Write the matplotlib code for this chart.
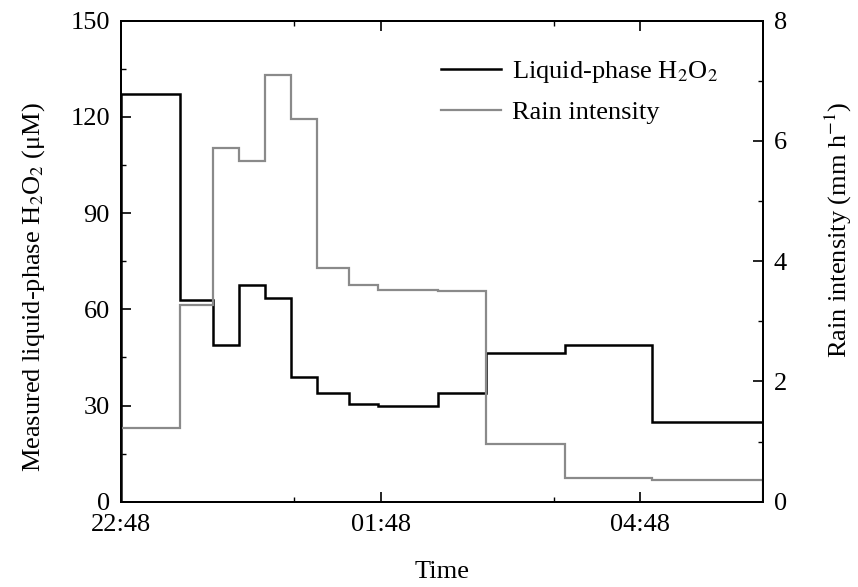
import matplotlib
matplotlib.use("Agg")
import matplotlib.pyplot as plt
import matplotlib.dates as mdates
import pandas as pd

plt.rcParams['font.family'] = ['Liberation Serif', 'DejaVu Serif']
plt.rcParams['mathtext.fontset'] = 'stix'

# step edges (clock time), night crossing midnight
edges = ["22:48", "23:29", "23:52", "00:10", "00:28", "00:46", "01:04",
         "01:26", "01:46", "02:28", "03:01", "03:56", "04:56", "06:13"]
h2o2 = [127, 63, 49, 67.5, 63.5, 39, 34, 30.5, 30, 34, 46.5, 49, 25]
rain = [1.23, 3.27, 5.88, 5.67, 7.09, 6.37, 3.88, 3.6, 3.52, 3.5, 0.96, 0.4, 0.36]
major_ticks = ["22:48", "01:48", "04:48"]
minor_ticks = ["00:48", "03:48"]


def to_time(labels):
    t = pd.to_datetime(["2000-01-01 " + s for s in labels])
    # after midnight -> next day
    return [x + pd.Timedelta(days=1) if x.hour < 12 else x for x in t]


t_edges = to_time(edges)

fig = plt.figure(figsize=(8.58, 5.87), dpi=100)
ax = fig.add_axes([0.141, 0.1453, 0.748, 0.8194])
ax2 = ax.twinx()

ax.stairs(h2o2, t_edges, color='black', lw=1.8, label='Liquid-phase H$_2$O$_2$')
ax2.stairs(rain, t_edges, color='#8a8a8a', lw=1.6, label='Rain intensity')

ax.set_xlim(t_edges[0], t_edges[-1])
ax.set_ylim(0, 150)
ax2.set_ylim(0, 8)
ax.set_yticks(range(0, 151, 30))
ax.set_yticks(range(15, 151, 30), minor=True)
ax2.set_yticks(range(0, 9, 2))
ax2.set_yticks(range(1, 9, 2), minor=True)
ax.set_xticks(to_time(major_ticks))
ax.set_xticks(to_time(minor_ticks), minor=True)
ax.xaxis.set_major_formatter(mdates.DateFormatter('%H:%M'))

fs = 19
for a in (ax, ax2):
    a.tick_params(which='major', direction='in', length=7, width=1.2, labelsize=fs, pad=8)
    a.tick_params(which='minor', direction='in', length=3.5, width=1.0)
    for s in a.spines.values():
        s.set_linewidth(1.4)
ax.tick_params(which='both', top=True)
ax.tick_params(axis='x', which='major', pad=9)

ax.set_xlabel('Time', fontsize=fs, labelpad=18)
ax.set_ylabel('Measured liquid-phase H$_2$O$_2$ (μM)', fontsize=fs)
ax2.set_ylabel('Rain intensity (mm h$^{-1}$)', fontsize=fs)
ax.yaxis.set_label_coords(-0.115, 0.446)
ax2.yaxis.set_label_coords(1.094, 0.565)

h1, l1 = ax.get_legend_handles_labels()
h2, l2 = ax2.get_legend_handles_labels()
ax2.legend(h1 + h2, l1 + l2, loc='upper right', bbox_to_anchor=(0.967, 0.97),
           frameon=False, fontsize=fs, handlelength=2.3, handletextpad=0.4,
           labelspacing=0.6)

fig.savefig('out.png', dpi=100)
